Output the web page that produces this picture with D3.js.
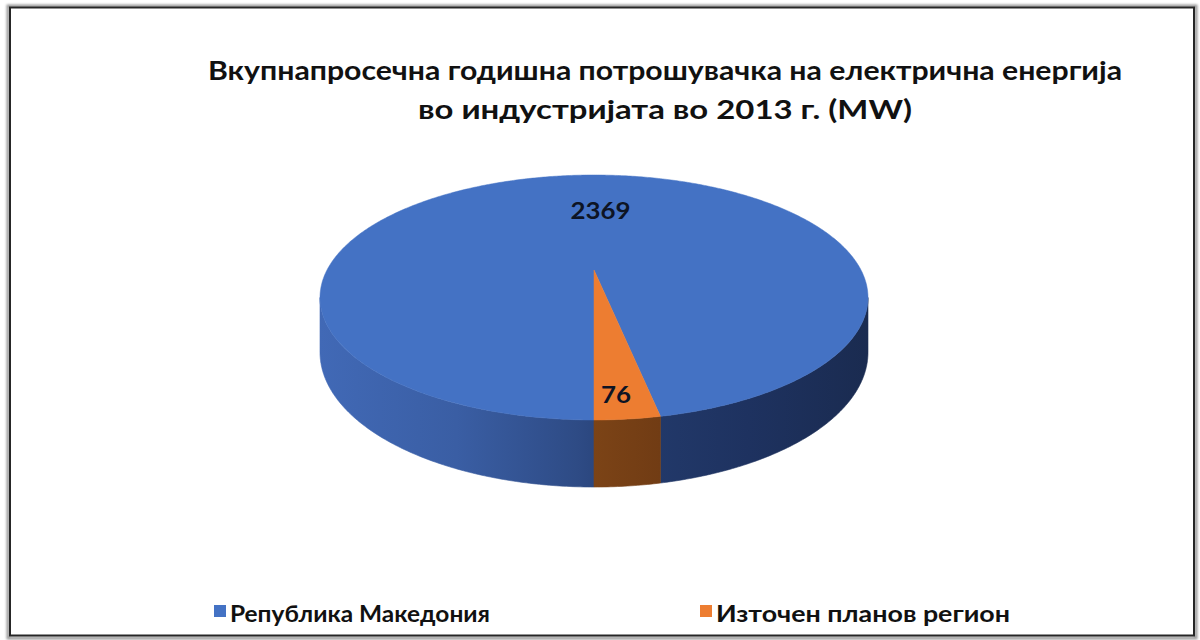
<!DOCTYPE html>
<html>
<head>
<meta charset="utf-8">
<script src="https://cdn.jsdelivr.net/npm/d3@7/dist/d3.min.js"></script>
<style>
  html, body { margin: 0; padding: 0; background: #fff; }
  svg { display: block; }
  text { font-family: Lato, "Open Sans", "Noto Sans", sans-serif; font-weight: bold; }
</style>
</head>
<body>
<svg id="chart" width="1200" height="640"></svg>
<script>
// Series data
const categories = ["Република Македония", "Източен планов регион"];
const values = [2369, 76];
const titleLines = [
  "Вкупнапросечна годишна потрошувачка на електрична енергија",
  "во индустријата во 2013 г. (MW)"
];

// Appearance
const topColors = ["#4472C4", "#ED7D31"];

const svg = d3.select("#chart");
const defs = svg.append("defs");

// Frame with a soft shadow
defs.append("filter").attr("id", "soft")
  .append("feGaussianBlur").attr("stdDeviation", 1.2);
svg.append("rect").attr("x", 8).attr("y", 6).attr("width", 1188).attr("height", 632)
  .attr("fill", "none").attr("stroke", "#9a9a9a").attr("stroke-width", 3).attr("filter", "url(#soft)");
svg.append("rect").attr("x", 10).attr("y", 7.5).attr("width", 1184).attr("height", 628)
  .attr("fill", "#fff").attr("stroke", "#262626").attr("stroke-width", 2);

// Title
const title = svg.append("g");
const titleSpec = [
  { x0: 208, x1: 1122, y: 80 },
  { x0: 418, x1: 912, y: 119 }
];
titleLines.forEach((t, i) => {
  const s = titleSpec[i];
  title.append("text")
    .attr("x", (s.x0 + s.x1) / 2).attr("y", s.y)
    .attr("text-anchor", "middle")
    .attr("font-size", 26)
    .attr("fill", "#111")
    .attr("textLength", s.x1 - s.x0)
    .attr("lengthAdjust", "spacingAndGlyphs")
    .text(t);
});

// Perspective projection of a tilted disc: X across, Z toward the viewer (unit radius)
const CX = 594, S = 267, K = 0.2245, A = 55.7, B = 270, DEPTH = 52;
function project(X, Z, h) {
  const w = 1 - K * Z;
  return [CX + S * X / w, (A * Z + B + h) / w];
}
function ang(a, r) { return [r * Math.sin(a), -r * Math.cos(a)]; }

// Pie layout: first slice starts at 6 o'clock, clockwise, data order kept
const pie = d3.pie().sort(null).startAngle(Math.PI).endAngle(3 * Math.PI);
const arcs = pie(values);

const STEP = 0.01;
function sample(a0, a1) {
  const n = Math.max(2, Math.ceil((a1 - a0) / STEP));
  return d3.range(n + 1).map(i => a0 + (a1 - a0) * i / n);
}

// Angular window of the outer wall that faces the viewer
const vs = Math.atan2(Math.sqrt(1 - K * K), -K);
const ve = 2 * Math.PI - vs;
function visibleParts(a0, a1) {
  const out = [];
  for (let n = -1; n <= 2; n++) {
    const s = Math.max(a0, vs + 2 * Math.PI * n), e = Math.min(a1, ve + 2 * Math.PI * n);
    if (e > s) out.push([s, e]);
  }
  return out;
}

// Wall shading gradients (light from the left)
const gradStops = [
  [[0, "#4169b6"], [0.25, "#3a5ea4"], [0.47, "#2e4b85"], [0.6, "#22396a"], [0.78, "#1e3260"], [1, "#1a2b50"]],
  [[0, "#84481a"], [0.47, "#7e4517"], [0.62, "#713c14"], [1, "#5e3210"]]
];
gradStops.forEach((stops, i) => {
  const g = defs.append("linearGradient").attr("id", "wall" + i)
    .attr("gradientUnits", "userSpaceOnUse")
    .attr("x1", CX - S * 1.03).attr("x2", CX + S * 1.03).attr("y1", 0).attr("y2", 0);
  stops.forEach(([o, c]) => g.append("stop").attr("offset", o).attr("stop-color", c));
});

const line = d3.line();
const pieG = svg.append("g");

// Outer walls
arcs.forEach((d, i) => {
  visibleParts(d.startAngle, d.endAngle).forEach(([s, e]) => {
    const as = sample(s, e);
    const topPts = as.map(a => { const [X, Z] = ang(a, 1); return project(X, Z, 0); });
    const botPts = as.slice().reverse().map(a => { const [X, Z] = ang(a, 1); return project(X, Z, DEPTH); });
    pieG.append("path")
      .attr("d", line(topPts.concat(botPts)) + "Z")
      .attr("fill", "url(#wall" + i + ")")
      .attr("stroke", "url(#wall" + i + ")").attr("stroke-width", 0.6);
  });
});

// Top faces
arcs.forEach((d, i) => {
  const pts = [project(0, 0, 0)].concat(sample(d.startAngle, d.endAngle).map(a => {
    const [X, Z] = ang(a, 1); return project(X, Z, 0);
  }));
  pieG.append("path")
    .attr("d", line(pts) + "Z")
    .attr("fill", topColors[i])
    .attr("stroke", topColors[i]).attr("stroke-width", 0.5);
});

// Value labels placed inside each slice
const labelR = [0.58, 0.87];
const labelDx = [20, -6];
const fmt = d3.format("d");
arcs.forEach((d, i) => {
  const mid = (d.startAngle + d.endAngle) / 2;
  const [X, Z] = ang(mid, labelR[i]);
  const [x, y] = project(X, Z, 0);
  const txt = fmt(d.data);
  pieG.append("text")
    .attr("x", x + labelDx[i]).attr("y", y + 8)
    .attr("text-anchor", "middle")
    .attr("font-size", 23)
    .attr("fill", "#0d1424")
    .attr("textLength", txt.length * 15)
    .attr("lengthAdjust", "spacingAndGlyphs")
    .text(txt);
});

// Legend
const legendSpec = [
  { sq: 214, tx: 230, tw: 260 },
  { sq: 700, tx: 716, tw: 294 }
];
const legend = svg.append("g");
categories.forEach((c, i) => {
  const s = legendSpec[i];
  legend.append("rect").attr("x", s.sq).attr("y", 605).attr("width", 12).attr("height", 12)
    .attr("fill", topColors[i]);
  legend.append("text")
    .attr("x", s.tx).attr("y", 622)
    .attr("font-size", 22)
    .attr("fill", "#111")
    .attr("textLength", s.tw)
    .attr("lengthAdjust", "spacingAndGlyphs")
    .text(c);
});
</script>
</body>
</html>
